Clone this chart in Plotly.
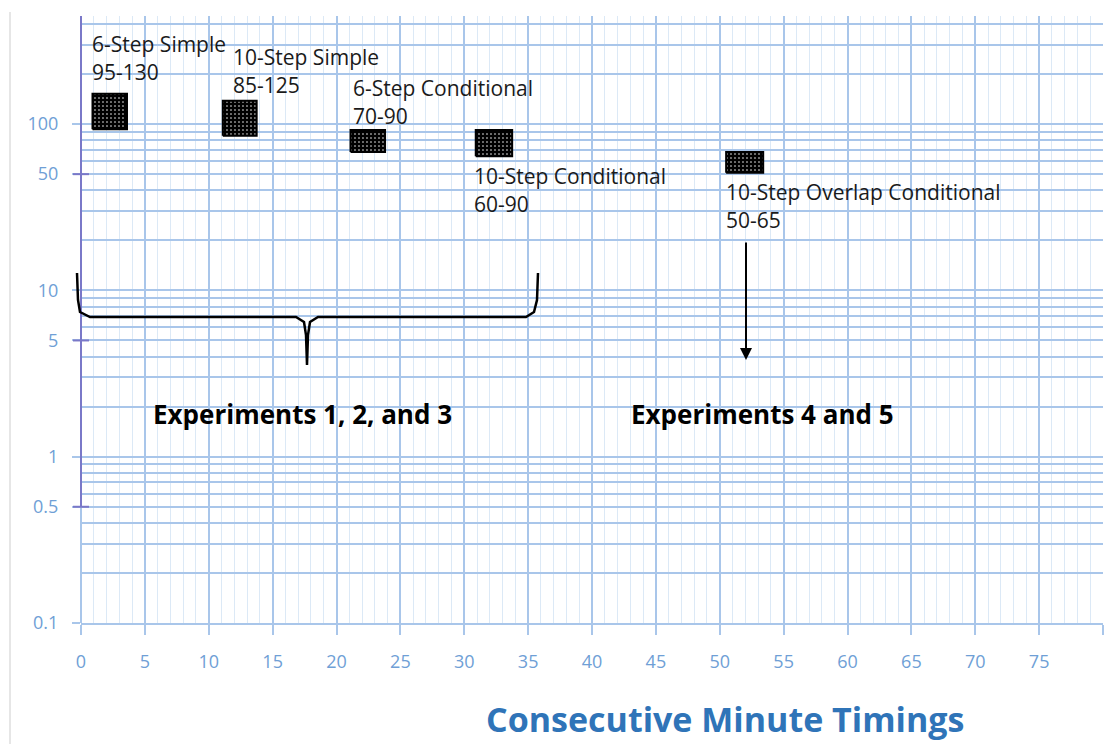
import numpy as np
import plotly.graph_objects as go

# ---------------- data ----------------
series_names = ["6-Step Simple", "10-Step Simple", "6-Step Conditional",
                "10-Step Conditional", "10-Step Overlap Conditional"]
range_labels = ["95-130", "85-125", "70-90", "60-90", "50-65"]
x_start = [0.9, 11.1, 21.1, 30.9, 50.5]
x_end = [3.6, 13.75, 23.8, 33.75, 53.4]
y_low = [93, 85, 68, 64, 51]
y_high = [152, 138, 92, 92, 68]

x_ticks = list(range(0, 81, 5))
y_tick_vals = [0.1, 0.5, 1, 5, 10, 50, 100]
y_tick_text = ["0.1", "0.5", "1", "5", "10", "50", "100"]
group_labels = ["Experiments 1, 2, and 3", "Experiments 4 and 5"]
x_title = "Consecutive Minute Timings"

# ---------------- layout geometry (reference pixel space) ----------------
OFF = 8                      # page body margin offset
W, H = 1113 - OFF, 746 - OFF
L, R, T, B = 81, 1103, 16, 623
YR = [-1, 2.65]


def pp(x, y):
    """reference pixel -> paper coordinates"""
    return (x - L) / (R - L), (B - y) / (B - T)


def ylog_paper(v):
    return (np.log10(v) - YR[0]) / (YR[1] - YR[0])


FONT = "Open Sans"
TXT = "#1a1a1a"
GRID = "#a9c6ea"
GRID_MINOR = "#dce9f6"
TICKC = "#6f9fd6"
PURPLE = "#7a78c8"

fig = go.Figure()

for xs, xe, lo, hi, name in zip(x_start, x_end, y_low, y_high, series_names):
    fig.add_trace(go.Scatter(
        x=[xs, xe, xe, xs, xs], y=[lo, lo, hi, hi, lo],
        mode="lines", fill="toself", fillcolor="black",
        fillpattern=dict(shape=".", bgcolor="black", fgcolor="white",
                         size=4, solidity=0.12, fillmode="replace"),
        line=dict(color="black", width=2), name=name, showlegend=False,
        hoverinfo="name"))

# minor y gridlines (log minors)
minor_y = []
for d in [0.1, 1, 10, 100]:
    for k in range(2, 10):
        v = round(d * k, 3)
        if v not in y_tick_vals and v < 450:
            minor_y.append(v)

fig.update_layout(
    width=W, height=H,
    margin=dict(l=L - OFF, r=(W + OFF) - R, t=T - OFF, b=(H + OFF) - B),
    paper_bgcolor="white", plot_bgcolor="white",
    showlegend=False,
    font=dict(family=FONT, color=TXT),
    xaxis=dict(
        range=[0, 80], tickvals=x_ticks, ticktext=[str(v) for v in x_ticks],
        showgrid=True, gridcolor=GRID, gridwidth=2,
        ticks="outside", ticklen=10, tickwidth=2, tickcolor=GRID,
        ticklabelstandoff=11,
        tickfont=dict(family=FONT, size=18, color=TICKC),
        showline=True, linecolor=GRID, linewidth=2,
        minor=dict(dtick=1, showgrid=True, gridcolor=GRID_MINOR, gridwidth=1, ticks=""),
        zeroline=False,
    ),
    yaxis=dict(
        type="log", range=YR,
        tickvals=y_tick_vals, ticktext=y_tick_text,
        showgrid=True, gridcolor=GRID, gridwidth=2,
        ticks="outside", ticklen=8, tickwidth=2, tickcolor=GRID,
        ticklabelstandoff=10,
        tickfont=dict(family=FONT, size=18, color=TICKC),
        showline=False,
        minor=dict(tickmode="array", tickvals=minor_y, showgrid=True,
                   gridcolor=GRID, gridwidth=2, ticks=""),
        zeroline=False,
    ),
)

shapes = []
# y axis line: light blue below 0.5, purple above
y05 = ylog_paper(0.5)
shapes.append(dict(type="line", xref="paper", yref="paper", x0=0, x1=0, y0=0, y1=y05,
                   line=dict(color=GRID, width=2)))
shapes.append(dict(type="line", xref="paper", yref="paper", x0=0, x1=0, y0=y05, y1=1,
                   line=dict(color=PURPLE, width=2)))
# purple crossing ticks at 50, 5, 0.5
for v in [0.5, 5, 50]:
    yp = ylog_paper(v)
    shapes.append(dict(type="line", xref="paper", yref="paper",
                       x0=pp(73, 0)[0], x1=pp(89, 0)[0], y0=yp, y1=yp,
                       line=dict(color=PURPLE, width=2)))
# faint page border at left
shapes.append(dict(type="line", xref="paper", yref="paper",
                   x0=pp(10, 0)[0], x1=pp(10, 0)[0], y0=pp(0, 744)[1], y1=pp(0, 12)[1],
                   line=dict(color="#e6e6e6", width=2)))

# curly brace under experiments 1-3 (pixel path -> paper)
brace_px = [(77, 273), (78, 300), (80, 312), (90, 317), (296, 317), (304, 322),
            (306, 335), (307, 365), (308, 335), (310, 322), (318, 317),
            (526, 317), (534, 312), (537, 300), (538, 273)]
path = ""
for i, (bx, by) in enumerate(brace_px):
    px_, py_ = pp(bx, by)
    path += ("M" if i == 0 else "L") + f"{px_:.5f},{py_:.5f} "
shapes.append(dict(type="path", xref="paper", yref="paper", path=path,
                   line=dict(color="black", width=2.5)))
fig.update_layout(shapes=shapes)

annotations = []
label_pos = [(90, 44), (231, 57), (351, 88), (472, 176), (724, 192)]
for (lx, ly), name, rng in zip(label_pos, series_names, range_labels):
    ax_, ay_ = pp(lx, ly)
    annotations.append(dict(xref="paper", yref="paper", x=ax_, y=ay_, text=name,
                            showarrow=False, xanchor="left", yanchor="middle",
                            font=dict(family=FONT, size=21, color=TXT)))
    ax_, ay_ = pp(lx, ly + 28)
    annotations.append(dict(xref="paper", yref="paper", x=ax_, y=ay_, text=rng,
                            showarrow=False, xanchor="left", yanchor="middle",
                            font=dict(family=FONT, size=21, color=TXT)))

for (gx, gy), g in zip([(302, 414), (762, 414)], group_labels):
    ax_, ay_ = pp(gx, gy)
    annotations.append(dict(xref="paper", yref="paper", x=ax_, y=ay_, text=f"<b>{g}</b>",
                            showarrow=False, xanchor="center", yanchor="middle",
                            font=dict(family=FONT, size=26, color="black")))

# arrow for experiments 4 and 5
hx, hy = pp(746, 360)
annotations.append(dict(xref="paper", yref="paper", x=hx, y=hy, text="",
                        showarrow=True, ax=0, ay=-119, arrowhead=2, arrowsize=1.2,
                        arrowwidth=2, arrowcolor="black"))

tx, ty = pp(725, 719)
annotations.append(dict(xref="paper", yref="paper", x=tx, y=ty, text=f"<b>{x_title}</b>",
                        showarrow=False, xanchor="center", yanchor="middle",
                        font=dict(family=FONT, size=34, color="#2f74b8")))
fig.update_layout(annotations=annotations)

fig.write_html("out.html")
